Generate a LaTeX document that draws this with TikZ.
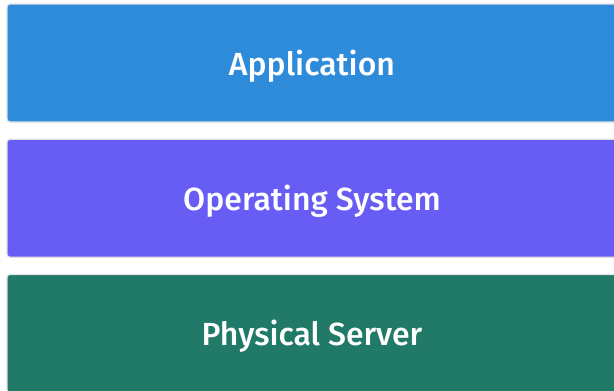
\documentclass[tikz,border=0pt]{standalone}
\usepackage{fontspec}
\setmainfont{Fira Sans}[BoldFont={Fira Sans Medium}]
\usetikzlibrary{positioning}
\definecolor{appblue}{HTML}{2E8BDA}
\definecolor{ospurple}{HTML}{675DF5}
\definecolor{servergreen}{HTML}{217A67}

\begin{document}
\begin{tikzpicture}[x=1pt,y=1pt,
  layer/.style={rounded corners=3pt,minimum width=610pt,minimum height=118pt,
    inner sep=0pt,text=white,font=\fontsize{32}{35}\selectfont\bfseries,
    text height=28pt,text depth=3pt,
    draw=black!12,line width=1.2pt},
  node distance=16pt]
\path[use as bounding box] (0,0) rectangle (614,-391);
\clip (0,0) rectangle (614,-391);

\node[layer,fill=appblue] (app) at (312,-63) {Application};
\node[layer,fill=ospurple,below=of app] (os) {Operating System};
\node[layer,fill=servergreen,below=of os] (server) {Physical Server};
\end{tikzpicture}
\end{document}
